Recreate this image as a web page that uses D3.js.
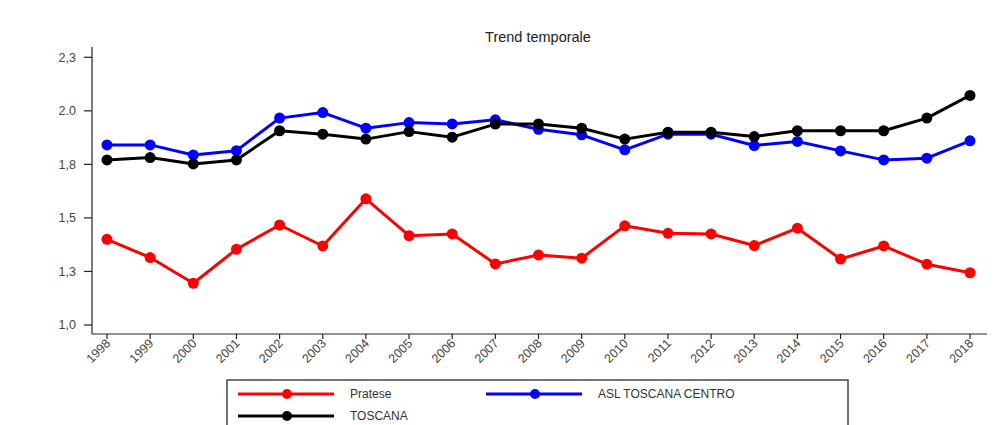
<!DOCTYPE html>
<html><head><meta charset="utf-8">
<script src="https://cdn.jsdelivr.net/npm/d3@7"></script>
<style>body{margin:0;background:#fff}svg{display:block}text{font-family:"Liberation Sans",Arial,sans-serif}</style>
</head><body><svg id="c" width="995" height="425"></svg>
<script>
const years = [1998,1999,2000,2001,2002,2003,2004,2005,2006,2007,2008,2009,2010,2011,2012,2013,2014,2015,2016,2017,2018];
const pratese = [1.400,1.315,1.195,1.354,1.467,1.369,1.589,1.417,1.425,1.285,1.327,1.312,1.463,1.428,1.425,1.371,1.452,1.308,1.369,1.284,1.244];
const aslCentro = [1.841,1.841,1.794,1.814,1.966,1.992,1.919,1.945,1.939,1.958,1.914,1.888,1.818,1.891,1.891,1.838,1.857,1.813,1.771,1.779,1.860];
const toscana = [1.771,1.782,1.752,1.771,1.907,1.891,1.868,1.903,1.877,1.938,1.939,1.919,1.868,1.900,1.900,1.880,1.907,1.907,1.907,1.966,2.072];
const yTicks = [1.0,1.25,1.5,1.75,2.0,2.25];
const yTickLabels = ["1,0","1,3","1,5","1,8","2.0","2,3"];
const seriesNames = ["Pratese","ASL TOSCANA CENTRO","TOSCANA"];
const seriesColors = ["#ff0000","#0000ff","#000000"];
const title = "Trend temporale";

const svg = d3.select("#c");
const x = d3.scalePoint().domain(years).range([107,970]);
const y = d3.scaleLinear().domain([1.0,2.25]).range([325,57.3]);

svg.append("line").attr("x1",92).attr("x2",92).attr("y1",47).attr("y2",334).attr("stroke","#222").attr("stroke-width",1.2);
svg.append("line").attr("x1",92).attr("x2",987).attr("y1",334).attr("y2",334).attr("stroke","#222").attr("stroke-width",1.2);

const yAx = svg.append("g");
yTicks.forEach((t,i)=>{
  yAx.append("line").attr("x1",84).attr("x2",92).attr("y1",y(t)).attr("y2",y(t)).attr("stroke","#222").attr("stroke-width",1.2);
  yAx.append("text").attr("x",76).attr("y",y(t)).attr("dy","0.35em").attr("text-anchor","end")
    .attr("font-size",12.5).attr("fill","#444").text(yTickLabels[i]);
});
const xAx = svg.append("g");
years.forEach(yr=>{
  const px = x(yr);
  xAx.append("line").attr("x1",px).attr("x2",px).attr("y1",334).attr("y2",339).attr("stroke","#222").attr("stroke-width",1.2);
  xAx.append("text").attr("transform",`translate(${px+1},${341}) rotate(-45)`).attr("text-anchor","end")
    .attr("dy","0.35em").attr("font-size",12.5).attr("fill","#444").text(yr);
});

svg.append("text").attr("x",538).attr("y",42).attr("text-anchor","middle").attr("font-size",14.5).attr("fill","#222").text(title);

const data = [pratese, aslCentro, toscana];
const line = d3.line().x((d,i)=>x(years[i])).y(d=>y(d));
data.forEach((s,k)=>{
  svg.append("path").datum(s).attr("d",line).attr("fill","none").attr("stroke",seriesColors[k]).attr("stroke-width",3).attr("stroke-linejoin","round");
});
data.forEach((s,k)=>{
  svg.selectAll(null).data(s).enter().append("circle").attr("cx",(d,i)=>x(years[i])).attr("cy",d=>y(d)).attr("r",5.5).attr("fill",seriesColors[k]);
});

const lg = svg.append("g");
lg.append("rect").attr("x",227).attr("y",380).attr("width",621).attr("height",60).attr("fill","#fff").attr("stroke","#444").attr("stroke-width",1.5);
const lpos = [[238,394],[486,394],[238,416]];
data.forEach((s,k)=>{
  const [lx,ly] = lpos[k];
  lg.append("line").attr("x1",lx).attr("x2",lx+96).attr("y1",ly).attr("y2",ly).attr("stroke",seriesColors[k]).attr("stroke-width",3);
  lg.append("circle").attr("cx",lx+49).attr("cy",ly).attr("r",5).attr("fill",seriesColors[k]);
  lg.append("text").attr("x",lx+112).attr("y",ly).attr("dy","0.35em").attr("font-size",12).attr("fill","#333").text(seriesNames[k]);
});
</script></body></html>
